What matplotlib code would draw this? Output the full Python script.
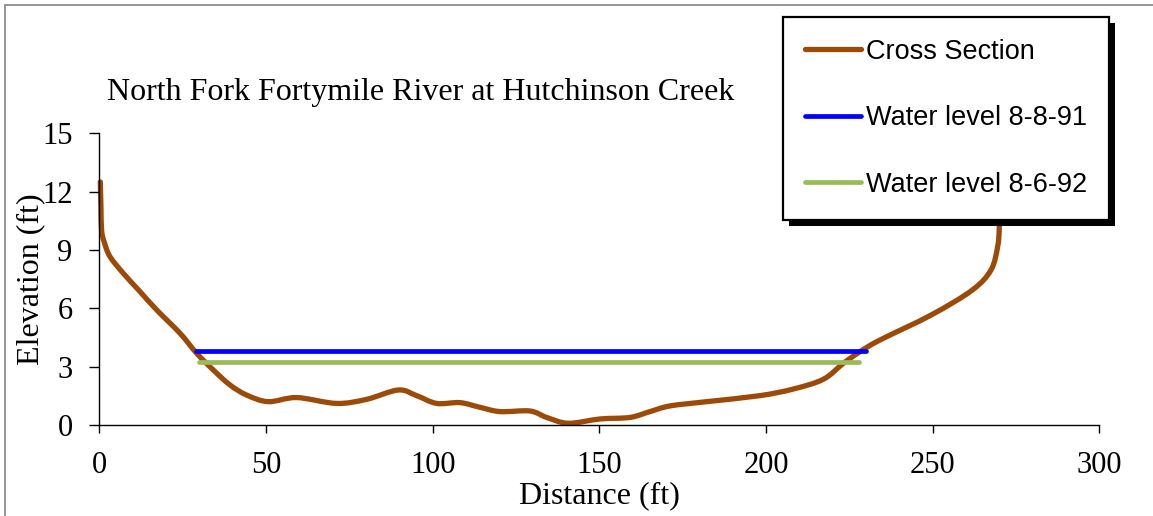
import matplotlib
matplotlib.use('Agg')
import matplotlib.pyplot as plt
from matplotlib.patches import Rectangle, PathPatch
from matplotlib.path import Path
from matplotlib.lines import Line2D
from matplotlib.transforms import IdentityTransform

# cross section (distance ft, elevation ft)
dist = [0.3, 0.5, 0.7, 1.5, 3.2, 7.2, 12.0, 17.2, 24.2, 29.2, 34.2, 39.2, 44.2,
        50.7, 59.2, 71.2, 80.2, 89.7, 95.2, 101.2, 108.2, 114.2, 120.2, 129.2,
        134.2, 140.7, 150.2, 159.2, 165.2, 171.2, 182.2, 198.2, 208.2, 217.2,
        223.2, 228.2, 234.2, 249.6, 261.9, 267.5, 269.5, 270.0, 270.2]
elev = [12.5, 11.2, 10.0, 9.4, 8.66, 7.8, 6.9, 5.92, 4.72, 3.69, 2.83, 2.06, 1.54,
        1.20, 1.41, 1.11, 1.32, 1.80, 1.51, 1.11, 1.15, 0.91, 0.69, 0.72,
        0.39, 0.09, 0.31, 0.39, 0.69, 0.98, 1.20, 1.51, 1.85, 2.35,
        3.17, 3.77, 4.37, 5.66, 6.94, 7.97, 9.17, 10.2, 12.4]

wl_91_x = [29, 230]
wl_91_y = [3.8, 3.8]
wl_92_x = [30, 228]
wl_92_y = [3.25, 3.25]

xticks = [0, 50, 100, 150, 200, 250, 300]
yticks = [0, 3, 6, 9, 12, 15]

serif = 'Liberation Serif'
sans = 'Liberation Sans'
brown = '#9C4A08'
blue = '#0000FF'
green = '#9BBB59'


def smooth_path(xs, ys):
    # Excel-like smoothed line: bezier segments through the points
    pts = list(zip(xs, ys))
    n = len(pts)
    verts = [pts[0]]
    codes = [Path.MOVETO]
    for i in range(n - 1):
        p0 = pts[i - 1] if i > 0 else pts[i]
        p1 = pts[i]
        p2 = pts[i + 1]
        p3 = pts[i + 2] if i + 2 < n else pts[i + 1]
        c1 = (p1[0] + (p2[0] - p0[0]) / 6, p1[1] + (p2[1] - p0[1]) / 6)
        c2 = (p2[0] - (p3[0] - p1[0]) / 6, p2[1] - (p3[1] - p1[1]) / 6)
        verts += [c1, c2, p2]
        codes += [Path.CURVE4] * 3
    return Path(verts, codes)


fig = plt.figure(figsize=(11.53, 5.16), dpi=100)
fig.patch.set_facecolor('white')

# grey chart-area border (only top/left edges visible)
fig.patches.append(Rectangle((5 / 1153, -0.1), 2.0, 1.1 - 5 / 516,
                             transform=fig.transFigure, fill=False,
                             edgecolor='#8c8c8c', lw=1.3))

ax = fig.add_axes([99.3 / 1153, 1 - 425 / 516, 1000 / 1153, 291.7 / 516])
ax.patch.set_visible(False)

section = PathPatch(smooth_path(dist, elev), fill=False, edgecolor=brown, lw=3.8,
                    capstyle='round', joinstyle='round', clip_on=False)
ax.add_patch(section)
ax.plot(wl_91_x, wl_91_y, color=blue, lw=3.4, solid_capstyle='round')
ax.plot(wl_92_x, wl_92_y, color=green, lw=3.4, solid_capstyle='round')

ax.set_xlim(0, 300)
ax.set_ylim(0, 15)
ax.set_xticks(xticks)
ax.set_yticks(yticks)
for s in ['top', 'right']:
    ax.spines[s].set_visible(False)
for s in ['left', 'bottom']:
    ax.spines[s].set_linewidth(1.0)
ax.tick_params(axis='y', direction='out', length=7.2, width=1.0, pad=12,
               labelsize=22)
ax.tick_params(axis='x', direction='out', length=5.8, width=1.0, pad=13,
               labelsize=22)
for lab in ax.get_xticklabels() + ax.get_yticklabels():
    lab.set_fontfamily(serif)

ax.set_xlabel('Distance (ft)', fontsize=23, family=serif, labelpad=1)
ax.set_ylabel('Elevation (ft)', fontsize=23, family=serif, labelpad=-2)

fig.text(107 / 1153, 1 - 100 / 516, 'North Fork Fortymile River at Hutchinson Creek',
         fontsize=23, family=serif, va='baseline', ha='left')

handles = [Line2D([], [], color=brown, lw=3.8, solid_capstyle='round'),
           Line2D([], [], color=blue, lw=3.4, solid_capstyle='round'),
           Line2D([], [], color=green, lw=3.4, solid_capstyle='round')]
labels = ['Cross Section', 'Water level 8-8-91', 'Water level 8-6-92']
leg = ax.legend(handles, labels, loc='upper left',
                bbox_to_anchor=(783 / 1153, 1 - 17 / 516),
                bbox_transform=fig.transFigure, borderaxespad=0,
                prop={'family': sans, 'size': 19.5}, fancybox=False,
                borderpad=0.8, handlelength=2.07, handletextpad=0.2,
                labelspacing=1.5, framealpha=1)
leg.get_frame().set_edgecolor('black')
leg.get_frame().set_linewidth(1.6)
leg.set_zorder(6)

# black drop shadow behind the legend box
fig.canvas.draw()
bb = leg.get_window_extent()
shadow = Rectangle((bb.x0 + 6, bb.y0 - 6), bb.width, bb.height,
                   transform=IdentityTransform(), facecolor='black',
                   edgecolor='none', zorder=5.9)
ax.add_artist(shadow)
shadow.set_clip_on(False)

fig.savefig('out.png', dpi=100)
